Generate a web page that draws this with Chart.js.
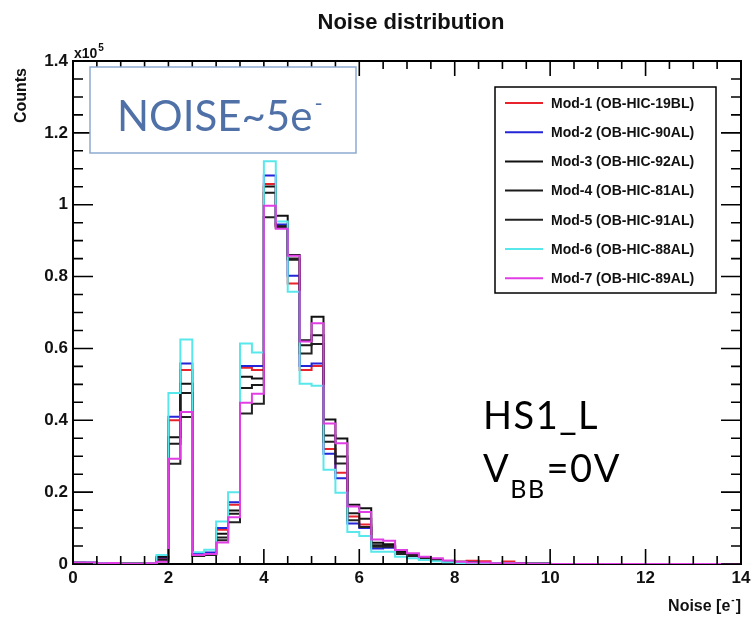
<!DOCTYPE html>
<html>
<head>
<meta charset="utf-8">
<script src="https://cdn.jsdelivr.net/npm/chart.js@4.4.0/dist/chart.umd.min.js"></script>
<style>
body{margin:0;background:#fff;}
#wrap{width:755px;height:617px;}
</style>
</head>
<body>
<div id="wrap"><canvas id="grafica" width="755" height="617"></canvas></div>
<script>
// limite inferior de cada bin [e-], ancho 0.25 ; ultimo valor = borde superior
var binEdges=[0,0.25,0.5,0.75,1,1.25,1.5,1.75,2,2.25,2.5,2.75,3,3.25,3.5,3.75,4,4.25,4.5,4.75,
              5,5.25,5.5,5.75,6,6.25,6.5,6.75,7,7.25,7.5,7.75,8,8.25,8.5,8.75,9,9.25,9.5,9.75,10];
var xMax=14;

// cuentas por bin (x10^5)
var mod1=[0.004,0.004,0.002,0.003,0.001,0.001,0.002,0.015,
  0.400,0.540,0.028,0.030,0.095,0.165,0.546,0.540,1.058,0.940,0.781,0.540,0.551,0.320,0.254,0.132,0.110,0.050,
  0.050,0.030,0.024,0.016,0.012,0.008,0.006,0.009,0.008,0.002,0.007,0.002,0.001,0.001];
var mod2=[0.004,0.004,0.002,0.003,0.001,0.001,0.002,0.018,
  0.410,0.558,0.028,0.032,0.100,0.172,0.551,0.551,1.081,0.945,0.802,0.551,0.558,0.307,0.239,0.113,0.100,0.043,
  0.045,0.028,0.022,0.015,0.011,0.007,0.005,0.004,0.003,0.002,0.002,0.002,0.001,0.001];
var mod3=[0.004,0.003,0.002,0.002,0.001,0.001,0.002,0.020,
  0.353,0.502,0.025,0.028,0.084,0.149,0.521,0.516,1.051,0.969,0.860,0.623,0.688,0.402,0.349,0.165,0.155,0.059,
  0.055,0.034,0.025,0.017,0.012,0.008,0.006,0.004,0.003,0.002,0.002,0.002,0.001,0.001];
var mod4=[0.003,0.003,0.002,0.002,0.001,0.001,0.002,0.012,
  0.335,0.476,0.025,0.027,0.074,0.140,0.490,0.498,1.033,0.940,0.847,0.609,0.637,0.358,0.299,0.141,0.126,0.052,
  0.050,0.030,0.024,0.016,0.011,0.008,0.005,0.004,0.003,0.002,0.002,0.002,0.001,0.001];
var mod5=[0.003,0.003,0.001,0.002,0.001,0.001,0.001,0.008,
  0.279,0.409,0.022,0.025,0.066,0.116,0.419,0.446,0.965,0.935,0.850,0.586,0.612,0.340,0.280,0.122,0.103,0.048,
  0.048,0.028,0.022,0.015,0.010,0.007,0.005,0.004,0.003,0.002,0.002,0.002,0.001,0.001];
var mod6=[0.004,0.004,0.002,0.003,0.001,0.001,0.002,0.025,
  0.476,0.625,0.033,0.040,0.118,0.200,0.614,0.589,1.121,0.953,0.758,0.502,0.496,0.262,0.198,0.089,0.078,0.034,
  0.034,0.020,0.016,0.011,0.008,0.005,0.003,0.003,0.003,0.002,0.002,0.001,0.001,0.001];
var mod7=[0.004,0.004,0.002,0.003,0.001,0.001,0.002,0.006,
  0.293,0.423,0.025,0.028,0.060,0.130,0.449,0.474,0.997,0.933,0.858,0.619,0.670,0.391,0.336,0.160,0.145,0.068,
  0.065,0.039,0.030,0.020,0.016,0.010,0.006,0.004,0.004,0.002,0.002,0.002,0.001,0.001];

var series=[mod1,mod2,mod3,mod4,mod5,mod6,mod7];
var labels=["Mod-1 (OB-HIC-19BL)","Mod-2 (OB-HIC-90AL)","Mod-3 (OB-HIC-92AL)","Mod-4 (OB-HIC-81AL)",
            "Mod-5 (OB-HIC-91AL)","Mod-6 (OB-HIC-88AL)","Mod-7 (OB-HIC-89AL)"];
var colores=["#e8232b","#2424d8","#111111","#1a1a1a","#222222","#58e8ec","#e03ee4"];
var xTicks=[0,2,4,6,8,10,12,14];
var yTicks=[0,0.2,0.4,0.6,0.8,1,1.2,1.4];

var FONT="'Liberation Sans', Arial, sans-serif";

function puntos(vals){
	var p=[];
	for(var i=0;i<vals.length;i++){ p.push({x:binEdges[i],y:vals[i]}); }
	p.push({x:binEdges[vals.length],y:vals[vals.length-1]});
	p.push({x:binEdges[vals.length],y:0});
	p.push({x:xMax,y:0});
	return p;
}

function superTexto(ctx,base,sup,x,y,size,supSize,rise){
	ctx.font="bold "+size+"px "+FONT;
	ctx.fillText(base,x,y);
	var w=ctx.measureText(base).width;
	ctx.font="bold "+supSize+"px "+FONT;
	ctx.fillText(sup,x+w+1,y-rise);
	return x+w+1+ctx.measureText(sup).width;
}

var rootPlugin={
	id:'rootFrame',
	beforeDatasetsDraw:function(chart){
		var ctx=chart.ctx, a=chart.chartArea;
		ctx.save();
		ctx.strokeStyle="#000"; ctx.lineWidth=2;
		ctx.strokeRect(a.left,a.top,a.right-a.left,a.bottom-a.top);
		ctx.restore();
	},
	afterDatasetsDraw:function(chart){
		var ctx=chart.ctx, a=chart.chartArea, xs=chart.scales.x, ys=chart.scales.y;
		var k,px,py,l;
		ctx.save();
		// ticks hacia adentro, estilo ROOT
		ctx.strokeStyle="#000";
		ctx.lineWidth=1.6;
		ctx.beginPath();
		for(k=0;k<=28;k++){
			px=xs.getPixelForValue(k*0.5); l=(k%4==0)?15:8;
			ctx.moveTo(px,a.bottom); ctx.lineTo(px,a.bottom-l);
			ctx.moveTo(px,a.top); ctx.lineTo(px,a.top+l);
		}
		for(k=0;k<=28;k++){
			py=ys.getPixelForValue(k*0.05); l=(k%4==0)?20:10;
			ctx.moveTo(a.left,py); ctx.lineTo(a.left+l,py);
			ctx.moveTo(a.right,py); ctx.lineTo(a.right-l,py);
		}
		ctx.stroke();
		ctx.lineWidth=2;
		ctx.beginPath();
		ctx.moveTo(a.left,a.top); ctx.lineTo(a.right,a.top); ctx.lineTo(a.right,a.bottom);
		ctx.moveTo(a.left,a.top); ctx.lineTo(a.left,a.bottom);
		ctx.stroke();

		// titulo y ejes
		ctx.fillStyle="#111";
		ctx.textBaseline="alphabetic";
		ctx.textAlign="center";
		ctx.font="bold 22px "+FONT;
		ctx.fillText("Noise distribution",411,29);
		ctx.textAlign="left";
		superTexto(ctx,"x10","5",74,58,14,10,7);
		ctx.save();
		ctx.translate(26,68); ctx.rotate(-Math.PI/2);
		ctx.textAlign="right"; ctx.font="bold 16px "+FONT;
		ctx.fillText("Counts",0,0);
		ctx.restore();
		ctx.textAlign="left";
		ctx.font="bold 16px "+FONT;
		var wx=ctx.measureText("Noise [e").width, wb=ctx.measureText("]").width;
		ctx.font="bold 10px "+FONT;
		var wm=ctx.measureText("-").width;
		var x0=741-wx-wm-wb-2;
		var xe=superTexto(ctx,"Noise [e","-",x0,611,16,10,8);
		ctx.font="bold 16px "+FONT;
		ctx.fillText("]",xe+1,611);

		// leyenda
		ctx.fillStyle="#fff"; ctx.fillRect(495,87,221,206);
		ctx.strokeStyle="#000"; ctx.lineWidth=1.5; ctx.strokeRect(495,87,221,206);
		ctx.font="bold 14px "+FONT; ctx.textBaseline="middle";
		for(k=0;k<labels.length;k++){
			var yy=103+29.2*k;
			ctx.strokeStyle=colores[k]; ctx.lineWidth=2;
			ctx.beginPath(); ctx.moveTo(505,yy); ctx.lineTo(543,yy); ctx.stroke();
			ctx.fillStyle="#111"; ctx.fillText(labels[k],551,yy+1);
		}

		// cuadro NOISE~5e-
		ctx.fillStyle="#fff"; ctx.fillRect(90,67,266,86);
		ctx.strokeStyle="#8eaad0"; ctx.lineWidth=1.5; ctx.strokeRect(90,67,266,86);
		ctx.textBaseline="alphabetic"; ctx.fillStyle="#4f71a8";
		ctx.font="42px Lato, "+FONT;
		ctx.fillText("NOISE~5e",117,131);
		var wn=ctx.measureText("NOISE~5e").width;
		ctx.font="22px Lato, "+FONT;
		ctx.fillText("-",117+wn+2,111);

		// HS1_L / VBB=0V
		ctx.fillStyle="#000";
		ctx.letterSpacing="1.5px";
		ctx.font="38px Lato, "+FONT;
		ctx.fillText("HS1_L",483,429);
		ctx.fillText("V",483,482);
		var wv=ctx.measureText("V").width;
		ctx.font="25px Lato, "+FONT;
		ctx.fillText("BB",483+wv,498);
		var wbb=ctx.measureText("BB").width;
		ctx.font="38px Lato, "+FONT;
		ctx.fillText("=0V",483+wv+wbb+1,482);
		ctx.letterSpacing="0px";
		ctx.restore();
	}
};

var datasets=[];
for(var i=0;i<series.length;i++){
	datasets.push({
		label:labels[i],
		data:puntos(series[i]),
		borderColor:colores[i],
		backgroundColor:colores[i],
		borderWidth:2,
		stepped:'before',
		pointRadius:0,
		fill:false,
		order:series.length-1-i
	});
}

var grafica=new Chart(document.getElementById("grafica"),{
	type:'line',
	data:{datasets:datasets},
	options:{
		responsive:false,
		animation:false,
		layout:{padding:{top:61,right:14,left:0,bottom:0}},
		plugins:{legend:{display:false},title:{display:false},tooltip:{enabled:false}},
		scales:{
			x:{
				type:'linear',min:0,max:xMax,
				grid:{display:false,drawTicks:false},
				border:{display:false},
				afterFit:function(s){ s.height=53; },
				afterBuildTicks:function(s){ s.ticks=xTicks.map(function(v){return {value:v};}); },
				ticks:{autoSkip:false,maxRotation:0,padding:4,color:"#111",
					font:{family:FONT,size:17,weight:'bold'}}
			},
			y:{
				type:'linear',min:0,max:1.4,
				grid:{display:false,drawTicks:false},
				border:{display:false},
				afterFit:function(s){ s.width=73; },
				afterBuildTicks:function(s){ s.ticks=yTicks.map(function(v){return {value:v};}); },
				ticks:{padding:5,color:"#111",
					font:{family:FONT,size:17,weight:'bold'},
					callback:function(v){ return String(Number(v.toFixed(1))); }}
			}
		}
	},
	plugins:[rootPlugin]
});
</script>
</body>
</html>
